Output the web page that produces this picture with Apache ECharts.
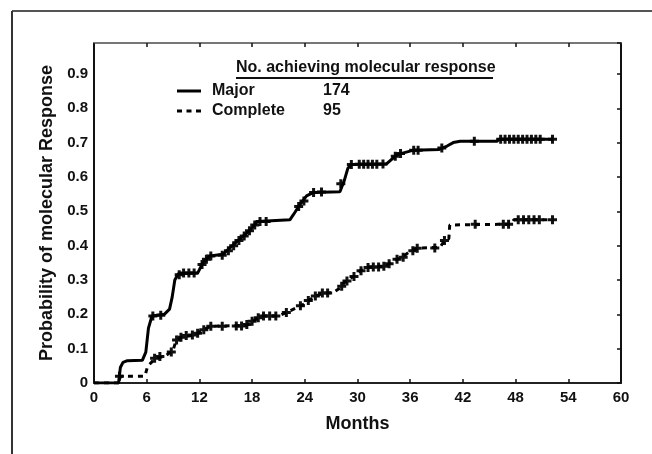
<!DOCTYPE html>
<html>
<head>
<meta charset="utf-8">
<script src="https://cdn.jsdelivr.net/npm/echarts@6/dist/echarts.min.js"></script>
<style>
  html, body { margin: 0; padding: 0; background: #fff; }
  #chart { width: 652px; height: 454px; }
</style>
</head>
<body>
<div id="chart"></div>
<script>
// Kaplan-Meier curves: [month, probability]
const majorCurve = [
  [0, 0], [2.8, 0], [3.0, 0.045], [3.3, 0.06], [3.8, 0.065], [5.5, 0.066],
  [5.9, 0.09], [6.2, 0.16], [6.6, 0.195], [8.0, 0.2], [8.6, 0.215], [8.9, 0.25],
  [9.2, 0.3], [9.6, 0.318], [11.8, 0.32], [12.4, 0.35], [13.2, 0.37], [14.7, 0.375],
  [16.2, 0.41], [17.8, 0.446], [18.6, 0.47], [22.3, 0.475], [22.7, 0.49], [23.3, 0.514],
  [24.2, 0.545], [25.0, 0.555], [28.0, 0.557], [28.5, 0.59], [28.9, 0.625], [29.3, 0.636],
  [33.3, 0.638], [34.5, 0.665], [36.4, 0.678], [39.3, 0.68], [40.2, 0.69], [40.9, 0.7],
  [41.7, 0.704], [45.9, 0.704], [46.1, 0.71], [52.3, 0.71]
];
const completeCurve = [
  [0, 0], [2.9, 0], [3.0, 0.02], [5.8, 0.02], [6.1, 0.048], [6.9, 0.07], [8.2, 0.08],
  [9.0, 0.095], [9.3, 0.12], [9.9, 0.133], [11.6, 0.14], [12.4, 0.155], [13.3, 0.165],
  [17.4, 0.168], [18.4, 0.185], [19.0, 0.195], [21.0, 0.195], [22.3, 0.21], [23.8, 0.228],
  [25.0, 0.25], [26.1, 0.262], [27.2, 0.263], [28.0, 0.276], [28.6, 0.295], [29.5, 0.31],
  [30.3, 0.327], [31.4, 0.338], [33.3, 0.34], [33.9, 0.354], [34.9, 0.364], [36.0, 0.383],
  [36.9, 0.393], [39.4, 0.395], [39.9, 0.415], [40.4, 0.42], [40.5, 0.46], [46.0, 0.462],
  [47.5, 0.462], [47.8, 0.475], [52.3, 0.475]
];
// censored observations (+)
const majorCensored = [
  [6.7, 0.195], [7.6, 0.197], [9.7, 0.315], [10.2, 0.32], [10.8, 0.32], [11.4, 0.32],
  [12.3, 0.345], [12.8, 0.36], [13.3, 0.37], [14.6, 0.372], [15.3, 0.385], [15.9, 0.4],
  [16.5, 0.415], [17.1, 0.428], [17.7, 0.443], [18.3, 0.46], [18.9, 0.47], [19.6, 0.47],
  [23.3, 0.514], [23.9, 0.53], [25.0, 0.555], [25.9, 0.556], [28.1, 0.58], [29.3, 0.636],
  [30.2, 0.637], [30.7, 0.637], [31.2, 0.637], [31.7, 0.637], [32.2, 0.637], [32.9, 0.638],
  [34.3, 0.66], [34.9, 0.668], [36.4, 0.678], [36.9, 0.678], [39.6, 0.684], [43.3, 0.704],
  [46.3, 0.71], [46.8, 0.71], [47.3, 0.71], [47.8, 0.71], [48.3, 0.71], [48.8, 0.71],
  [49.3, 0.71], [49.8, 0.71], [50.3, 0.71], [50.8, 0.71], [52.2, 0.71]
];
const completeCensored = [
  [2.9, 0.02], [6.9, 0.072], [7.5, 0.077], [8.8, 0.09], [9.4, 0.125], [9.9, 0.133],
  [10.5, 0.138], [11.2, 0.14], [11.8, 0.145], [12.5, 0.155], [13.3, 0.165], [14.6, 0.165],
  [16.2, 0.166], [16.8, 0.166], [17.4, 0.17], [18.0, 0.18], [18.7, 0.19], [19.3, 0.195],
  [20.0, 0.195], [20.7, 0.195], [21.9, 0.205], [23.5, 0.225], [24.4, 0.24], [25.2, 0.253],
  [26.0, 0.262], [26.6, 0.262], [28.2, 0.282], [28.8, 0.297], [29.6, 0.31], [30.4, 0.327],
  [31.2, 0.336], [31.8, 0.338], [32.4, 0.338], [33.0, 0.34], [33.6, 0.347], [34.5, 0.36],
  [35.2, 0.366], [36.3, 0.385], [36.8, 0.392], [38.8, 0.393], [39.9, 0.415], [43.4, 0.462],
  [46.6, 0.462], [47.2, 0.462], [48.3, 0.475], [48.9, 0.475], [49.5, 0.475], [50.1, 0.475],
  [50.7, 0.475], [52.2, 0.475]
];
const legendCounts = { Major: 174, Complete: 95 };

const font = "'Liberation Sans', Arial, sans-serif";
const plus = 'path://M3,0h3v3h3v3h-3v3h-3v-3h-3v-3h3z';

const chart = echarts.init(document.getElementById('chart'));

// top / right frame axes with inward ticks
const boxAxis = {
  min: 0,
  axisLine: { show: true, onZero: false, lineStyle: { color: '#111', width: 2 } },
  axisTick: { show: true, inside: true, length: 4, lineStyle: { color: '#111', width: 1.5 } },
  axisLabel: { show: false },
  splitLine: { show: false }
};

chart.setOption({
  animation: false,
  backgroundColor: '#fff',
  textStyle: { fontFamily: font },
  grid: { left: 94, right: 31, top: 43, bottom: 71 },
  // outer frame (partially cropped in the original figure) + legend header
  graphic: [
    { type: 'line', shape: { x1: 12, y1: 11, x2: 652, y2: 11 }, style: { stroke: '#555', lineWidth: 2 } },
    { type: 'line', shape: { x1: 12, y1: 11, x2: 12, y2: 454 }, style: { stroke: '#333', lineWidth: 2 } },
    {
      type: 'text', left: 236, top: 60,
      style: { text: 'No. achieving molecular response', font: 'bold 16px ' + font, fill: '#111' }
    },
    { type: 'line', shape: { x1: 236, y1: 78, x2: 493, y2: 78 }, style: { stroke: '#111', lineWidth: 2 } }
  ],
  legend: {
    data: [
      { name: 'Major', icon: 'path://M0,0h24v3h-24z' },
      { name: 'Complete', icon: 'path://M0,0h5v3h-5zM9.5,0h5v3h-5zM19,0h5v3h-5z' }
    ],
    orient: 'vertical',
    left: 172,
    top: 78,
    itemWidth: 24,
    itemHeight: 3,
    itemGap: 4,
    formatter: (name) => '{n|' + name + '}{v|' + legendCounts[name] + '}',
    textStyle: {
      color: '#111',
      padding: [0, 0, 0, 6],
      rich: {
        n: { width: 111, fontSize: 16, fontWeight: 'bold', fontFamily: font, color: '#111' },
        v: { fontSize: 16, fontWeight: 'bold', fontFamily: font, color: '#111' }
      }
    }
  },
  xAxis: [
    {
      type: 'value', min: 0, max: 60, interval: 6,
      name: 'Months', nameLocation: 'middle', nameGap: 32,
      nameTextStyle: { fontSize: 18, fontWeight: 'bold', color: '#111', fontFamily: font },
      axisLine: { onZero: false, lineStyle: { color: '#222', width: 2 } },
      axisTick: { inside: true, length: 4, lineStyle: { color: '#111', width: 1.5 } },
      axisLabel: { fontSize: 15, fontWeight: 'bold', color: '#111', margin: 7 },
      splitLine: { show: false }
    },
    Object.assign({}, boxAxis, {
      type: 'value', position: 'top', max: 60, interval: 6,
      axisLine: { show: true, onZero: false, lineStyle: { color: '#777', width: 2 } }
    })
  ],
  yAxis: [
    {
      type: 'value', min: 0, max: 0.99, interval: 0.1,
      name: 'Probability of molecular Response', nameLocation: 'middle', nameGap: 33,
      nameTextStyle: { fontSize: 18, fontWeight: 'bold', color: '#111', fontFamily: font },
      axisLine: { show: true, onZero: false, lineStyle: { color: '#111', width: 2 } },
      axisTick: { show: false },
      axisLabel: {
        fontSize: 15, fontWeight: 'bold', color: '#111', margin: 6, showMaxLabel: false,
        formatter: (v) => (v === 0 ? '0' : v.toFixed(1))
      },
      splitLine: { show: false }
    },
    Object.assign({}, boxAxis, {
      type: 'value', position: 'right', max: 0.99, interval: 0.1
    })
  ],
  series: [
    {
      name: 'Major', type: 'line', data: majorCurve, symbol: 'none',
      lineStyle: { color: '#000', width: 3 }, itemStyle: { color: '#000' }
    },
    {
      name: 'Complete', type: 'line', data: completeCurve, symbol: 'none',
      lineStyle: { color: '#000', width: 3, type: [5, 5] }, itemStyle: { color: '#000' }
    },
    {
      name: 'Major censored', type: 'scatter', data: majorCensored,
      symbol: plus, symbolSize: 9, itemStyle: { color: '#111', opacity: 1 }
    },
    {
      name: 'Complete censored', type: 'scatter', data: completeCensored,
      symbol: plus, symbolSize: 9, itemStyle: { color: '#111', opacity: 1 }
    }
  ]
});
</script>
</body>
</html>
